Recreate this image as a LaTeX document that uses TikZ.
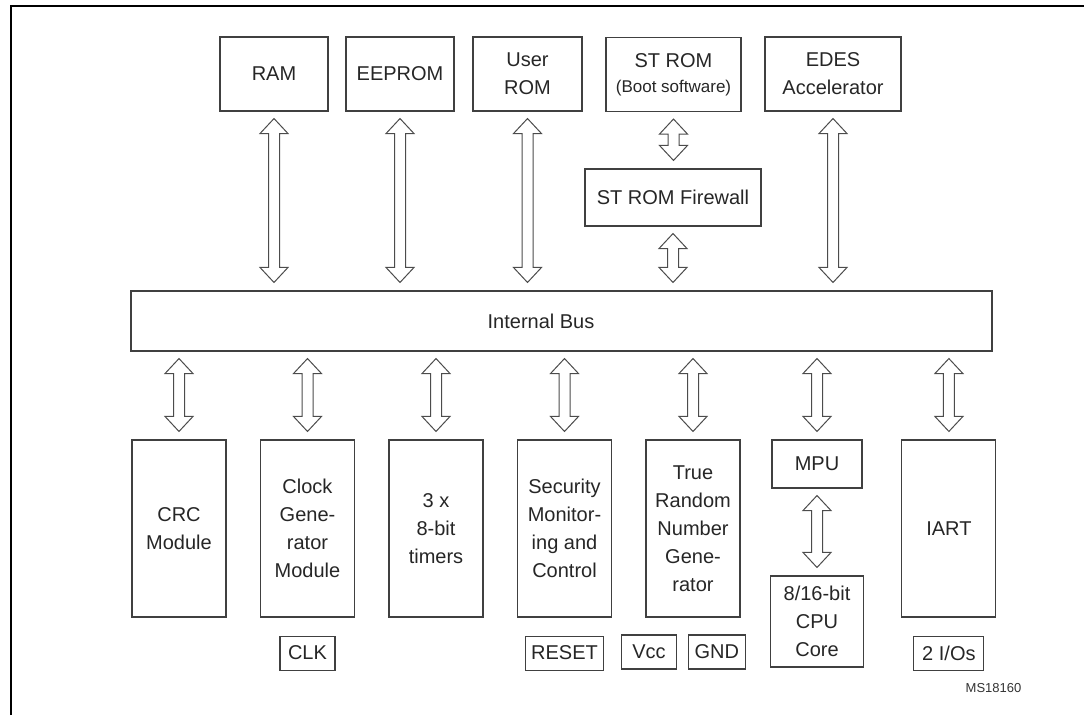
\documentclass[tikz,border=0pt]{standalone}
\usepackage{fontspec}
\setmainfont{Liberation Sans}
\usetikzlibrary{positioning,calc}

% hollow two-way bus arrow between two anchors (x taken from the first)
\newcommand\bidir[2]{%
  \draw[bar] let \p1=(#1), \p2=(#2) in
    (\x1,\y1-7pt) -- ++(14pt,-15pt) -- ++(-8.5pt,0pt) -- (\x1+5.5pt,\y2+23pt)
    -- ++(8.5pt,0pt) -- (\x1,\y2+8pt) -- ++(-14pt,15pt) -- ++(8.5pt,0pt)
    -- (\x1-5.5pt,\y1-22pt) -- ++(-8.5pt,0pt) -- cycle;}

\begin{document}
\begin{tikzpicture}[
  x=1pt, y=-1pt, node distance=18pt and 33.4pt,
  box/.style={draw=black!75, line width=1.1pt, align=center, inner sep=0pt,
              font=\fontsize{20}{28}\selectfont, text=black!85},
  mem/.style={box, minimum width=108pt, minimum height=74pt},
  unit/.style={box, minimum width=94pt, minimum height=177pt},
  pin/.style={box, minimum width=55pt, minimum height=34pt, inner xsep=6pt},
  bar/.style={draw=black!70, fill=white, line width=1pt, line join=miter},
]
\useasboundingbox (0,0) rectangle (1084,715);
\draw[line width=2pt] (11,715) -- (11,6) -- (1084,6);

% memories on top
\node[mem] (ram) at (274,74) {RAM};
\node[mem] (eeprom) at (400,74) {EEPROM};
\node[mem, minimum width=109pt] (urom) at (527.5,74) {User\\ROM};
\node[mem, minimum width=135pt] (strom) at (673.5,74.5)
  {ST ROM\\[-3pt]{\fontsize{17}{20}\selectfont (Boot software)}};
\node[mem, minimum width=136pt] (edes) at (833,74) {EDES\\Accelerator};
\node[box, minimum width=176pt, minimum height=57pt] (fw) at (673,197.5) {ST ROM Firewall};

\node[box, minimum width=861pt, minimum height=60pt,
  label={[font=\fontsize{20}{28}\selectfont, text=black!85, xshift=-20.5pt]center:Internal Bus}]
  (bus) at (561.5,321) {};

% peripherals
\node[unit] (crc) at (179,528.5) {CRC\\Module};
\node[unit, right=of crc] (clock) {Clock\\Gene-\\rator\\Module};
\node[unit, right=of clock] (timers) {3 x\\8-bit\\timers};
\node[unit, right=of timers] (secmon) {Security\\Monitor-\\ing and\\Control};
\node[unit, right=of secmon] (trng) {True\\Random\\Number\\Gene-\\rator};
\node[box, minimum width=90pt, minimum height=48pt] (mpu) at (817,464) {MPU};
\node[box, minimum width=93pt, minimum height=91pt] (cpu) at (817,621.5) {8/16-bit\\CPU\\Core};
\node[unit, right=160.8pt of trng] (iart) {IART};

% pins
\node[pin, below=of clock] (clk) {CLK};
\node[pin, below=of secmon] (reset) {RESET};
\node[pin] (vcc) at (649,652) {Vcc};
\node[pin, right=11pt of vcc] (gnd) {GND};
\node[pin, minimum width=70pt, below=of iart] (io) {2 I/Os};

\node[font=\fontsize{13}{15}\selectfont, text=black!80] (ref) at (993.5,688) {MS18160};

\foreach \m in {ram,eeprom,urom,edes}
  \bidir{\m.south}{bus.north -| \m};
\bidir{strom.south}{fw.north}
\bidir{fw.south}{bus.north -| fw}
\foreach \m in {crc,clock,timers,secmon,trng,mpu,iart}
  \bidir{bus.south -| \m}{\m.north};
\bidir{mpu.south}{cpu.north}
\end{tikzpicture}
\end{document}
